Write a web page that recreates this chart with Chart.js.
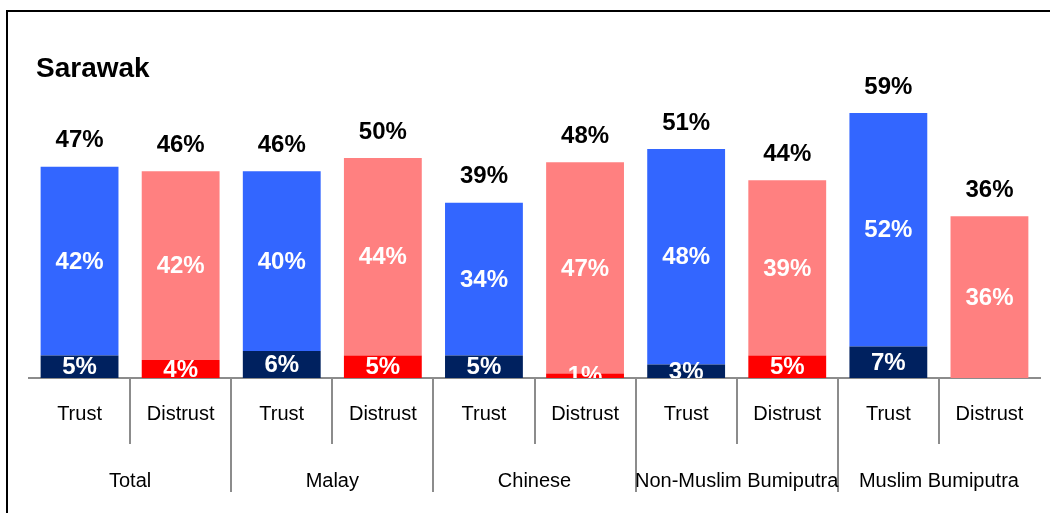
<!DOCTYPE html>
<html>
<head>
<meta charset="utf-8">
<script src="https://cdn.jsdelivr.net/npm/chart.js@4"></script>
<style>
  html, body { margin: 0; padding: 0; background: #fff; overflow: hidden; }
  #wrap { position: relative; width: 1050px; height: 513px; }
  #frame { position: absolute; left: 6px; top: 10px; width: 1200px; height: 700px; border: 2px solid #000; }
  canvas { position: absolute; left: 0; top: 0; }
</style>
</head>
<body>
<div id="wrap">
  <div id="frame"></div>
  <canvas id="trust" width="1050" height="513"></canvas>
</div>
<script>
const title = 'Sarawak'
const answers = ['Trust', 'Distrust', 'Trust', 'Distrust', 'Trust', 'Distrust', 'Trust', 'Distrust', 'Trust', 'Distrust']
const groups = ['Total', 'Malay', 'Chinese', 'Non-Muslim Bumiputra', 'Muslim Bumiputra']
// strong trust / strong distrust (bottom part)
const strongValues = [5, 4, 6, 5, 5, 1, 3, 5, 7, 0]
// somewhat trust / somewhat distrust (top part)
const somewhatValues = [42, 42, 40, 44, 34, 47, 48, 39, 52, 36]
// totals as printed above the bars
const totalLabels = [47, 46, 46, 50, 39, 48, 51, 44, 59, 36]

const strongColors = answers.map((a) => (a === 'Trust' ? '#00215f' : '#ff0000'))
const somewhatColors = answers.map((a) => (a === 'Trust' ? '#3366ff' : '#ff8080'))

const dividerColor = (ctx) => (ctx.index === undefined || ctx.index === 0 ? 'rgba(0,0,0,0)' : '#8c8c8c')
const tickFont = { family: '"Liberation Sans Narrow", "Liberation Sans", Arial, sans-serif', size: 20 }

const labelPlugin = {
  id: 'barLabels',
  afterDatasetsDraw(chart) {
    const ctx = chart.ctx
    const area = chart.chartArea
    ctx.save()
    ctx.font = 'bold 24px "Liberation Sans", Arial, sans-serif'
    ctx.textAlign = 'center'
    ctx.textBaseline = 'middle'
    // values inside the segments, clipped at the axis
    ctx.save()
    ctx.beginPath()
    ctx.rect(area.left, area.top - 200, area.right - area.left, area.bottom - area.top + 200)
    ctx.clip()
    ctx.fillStyle = '#fff'
    chart.data.datasets.forEach((ds, di) => {
      chart.getDatasetMeta(di).data.forEach((bar, i) => {
        if (!ds.data[i]) return
        ctx.fillText(ds.data[i] + '%', bar.x, (bar.y + bar.base) / 2 + 1)
      })
    })
    ctx.restore()
    // totals above the bars
    ctx.fillStyle = '#000'
    const top = chart.getDatasetMeta(chart.data.datasets.length - 1).data
    top.forEach((bar, i) => {
      ctx.fillText(totalLabels[i] + '%', bar.x, bar.y - 26)
    })
    // title
    ctx.font = 'bold 28px "Liberation Sans", Arial, sans-serif'
    ctx.textAlign = 'left'
    ctx.textBaseline = 'alphabetic'
    ctx.fillText(title, 36, 77)
    ctx.restore()
  },
}

const onPageLoad = () => {
  new Chart(document.getElementById('trust'), {
    type: 'bar',
    data: {
      labels: answers,
      datasets: [
        { label: 'Strong', data: strongValues, backgroundColor: strongColors, borderWidth: 0 },
        { label: 'Somewhat', data: somewhatValues, backgroundColor: somewhatColors, borderWidth: 0 },
      ],
    },
    options: {
      responsive: false,
      animation: false,
      events: [],
      barPercentage: 0.77,
      categoryPercentage: 1,
      layout: { padding: { left: 29, right: 10, top: 86, bottom: 21 } },
      plugins: {
        legend: { display: false },
        tooltip: { enabled: false },
      },
      scales: {
        x: {
          stacked: true,
          offset: true,
          grid: { offset: true, drawOnChartArea: false, tickLength: 66, color: dividerColor, lineWidth: 2 },
          border: { display: true, color: '#8c8c8c', width: 2 },
          ticks: { padding: -42, autoSkip: false, maxRotation: 0, color: '#000', font: tickFont },
          afterFit: (scale) => {
            scale.height = 66
          },
        },
        x2: {
          type: 'category',
          position: 'bottom',
          labels: groups,
          offset: true,
          grid: { offset: true, drawOnChartArea: false, tickLength: 48, color: dividerColor, lineWidth: 2 },
          border: { display: false },
          ticks: { padding: -23, autoSkip: false, maxRotation: 0, color: '#000', font: tickFont },
          afterFit: (scale) => {
            scale.height = 48
          },
        },
        y: {
          stacked: true,
          display: false,
          min: 0,
          max: 65,
        },
      },
    },
    plugins: [labelPlugin],
  })
}

document.addEventListener('DOMContentLoaded', onPageLoad)
</script>
</body>
</html>
